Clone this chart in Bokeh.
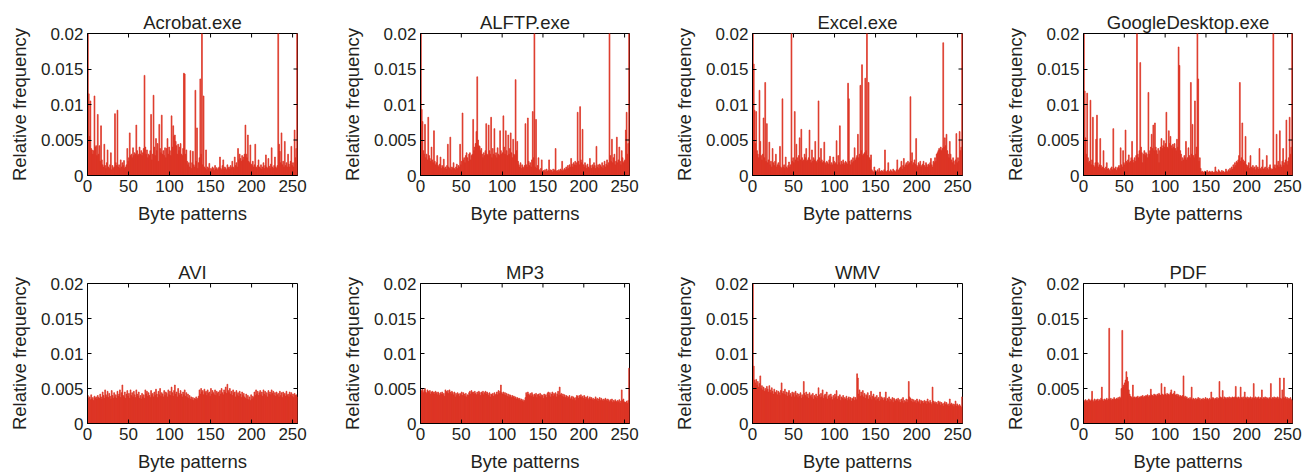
import math
from bokeh.plotting import figure
from bokeh.layouts import column, row
from bokeh.models import FixedTicker, Range1d, ColumnDataSource
from bokeh.embed import file_html
from bokeh.resources import INLINE

# values are relative frequencies in units of 1e-4
UNIT = 1e-4
byte_values = list(range(256))

acrobat = [
    300, 115, 55, 105, 38, 36, 30, 35, 112, 40, 42, 28, 86, 30, 42, 20,
    70, 22, 15, 12, 44, 14, 10, 18, 36, 12, 10, 15, 32, 8, 14, 10,
    12, 87, 18, 14, 92, 12, 15, 10, 22, 12, 18, 14, 21, 10, 12, 15,
    38, 20, 25, 60, 28, 30, 25, 39, 28, 32, 30, 71, 35, 28, 30, 40,
    30, 35, 28, 32, 38, 141, 40, 30, 36, 25, 30, 28, 35, 86, 22, 30,
    113, 40, 28, 52, 35, 45, 20, 72, 38, 32, 85, 30, 35, 28, 39, 25,
    38, 52, 30, 40, 35, 28, 84, 40, 70, 55, 57, 48, 42, 30, 44, 35,
    40, 45, 30, 28, 38, 144, 143, 30, 36, 20, 15, 18, 12, 35, 10, 18,
    34, 15, 12, 120, 20, 67, 10, 18, 25, 136, 30, 300, 15, 112, 12, 10,
    36, 8, 12, 10, 17, 6, 10, 8, 12, 10, 7, 14, 9, 11, 8, 10,
    12, 26, 10, 8, 14, 22, 9, 12, 10, 8, 15, 10, 12, 9, 14, 11,
    20, 12, 10, 26, 14, 18, 12, 38, 22, 30, 24, 20, 28, 22, 26, 30,
    71, 30, 25, 57, 20, 18, 43, 16, 14, 20, 12, 15, 44, 12, 10, 14,
    22, 12, 10, 15, 9, 12, 18, 10, 14, 29, 12, 10, 24, 13, 10, 16,
    39, 12, 10, 14, 26, 12, 10, 14, 300, 44, 34, 18, 60, 15, 20, 12,
    48, 14, 18, 12, 30, 16, 12, 20, 41, 14, 18, 12, 64, 25, 38, 300,
]

alftp = [
    300, 93, 76, 35, 30, 72, 25, 30, 22, 82, 28, 24, 20, 40, 22, 18,
    63, 20, 15, 18, 28, 14, 12, 16, 26, 10, 14, 12, 23, 10, 12, 9,
    14, 44, 12, 10, 54, 8, 12, 10, 18, 10, 8, 12, 16, 10, 14, 12,
    44, 15, 20, 88, 22, 25, 18, 28, 32, 25, 20, 30, 32, 22, 28, 30,
    79, 35, 40, 45, 62, 139, 50, 42, 41, 35, 38, 30, 25, 32, 28, 35,
    73, 30, 28, 71, 35, 30, 82, 25, 38, 30, 66, 28, 32, 25, 39, 30,
    28, 63, 35, 30, 32, 84, 40, 30, 63, 35, 28, 57, 30, 38, 60, 32,
    25, 51, 30, 28, 135, 35, 48, 20, 15, 12, 18, 10, 15, 12, 10, 14,
    73, 15, 12, 81, 20, 14, 18, 12, 22, 90, 25, 300, 12, 79, 10, 14,
    25, 8, 6, 10, 22, 5, 7, 6, 8, 5, 9, 6, 7, 22, 6, 8,
    7, 5, 9, 6, 8, 38, 6, 7, 5, 8, 6, 9, 7, 20, 6, 8,
    10, 8, 12, 9, 14, 10, 15, 12, 24, 16, 12, 18, 15, 20, 14, 18,
    89, 20, 15, 97, 22, 18, 65, 15, 12, 18, 14, 10, 16, 12, 10, 24,
    14, 10, 15, 12, 18, 14, 10, 41, 12, 15, 10, 16, 14, 12, 18, 10,
    14, 20, 12, 16, 22, 14, 18, 300, 28, 20, 51, 18, 25, 30, 15, 20,
    54, 18, 22, 40, 20, 15, 35, 25, 18, 20, 22, 64, 89, 30, 45, 300,
]

excel = [
    300, 157, 92, 45, 90, 35, 30, 25, 120, 48, 28, 22, 30, 81, 25, 131,
    20, 73, 18, 22, 47, 15, 20, 12, 38, 18, 14, 20, 30, 12, 15, 18,
    14, 41, 12, 10, 108, 12, 15, 10, 26, 12, 10, 14, 19, 12, 15, 300,
    20, 25, 18, 90, 22, 44, 25, 20, 28, 53, 22, 65, 25, 20, 22, 30,
    25, 38, 20, 22, 25, 64, 22, 18, 36, 20, 25, 22, 48, 20, 18, 22,
    105, 25, 20, 38, 22, 18, 20, 47, 18, 15, 20, 18, 16, 22, 27, 15,
    18, 15, 26, 20, 16, 18, 49, 15, 28, 18, 70, 15, 20, 16, 22, 18,
    15, 20, 18, 16, 130, 108, 20, 15, 22, 18, 25, 20, 39, 22, 25, 28,
    58, 25, 30, 127, 35, 156, 28, 30, 32, 137, 35, 300, 28, 131, 25, 22,
    29, 8, 6, 5, 12, 7, 5, 6, 8, 5, 10, 6, 5, 7, 6, 5,
    8, 36, 6, 5, 7, 18, 6, 5, 8, 6, 5, 9, 7, 6, 5, 8,
    22, 7, 8, 10, 12, 20, 9, 14, 24, 12, 15, 18, 14, 20, 16, 18,
    111, 20, 32, 15, 18, 22, 16, 52, 14, 12, 18, 15, 20, 12, 14, 16,
    20, 14, 12, 18, 15, 12, 16, 14, 18, 24, 15, 12, 20, 18, 25, 20,
    30, 32, 35, 38, 36, 40, 35, 38, 187, 40, 53, 42, 58, 35, 30, 25,
    48, 30, 22, 18, 25, 20, 15, 22, 59, 18, 25, 20, 62, 35, 40, 300,
]

google = [
    300, 119, 53, 30, 116, 25, 18, 20, 106, 15, 22, 82, 14, 12, 18, 51,
    85, 18, 12, 15, 52, 14, 10, 12, 35, 10, 8, 12, 18, 9, 10, 8,
    6, 10, 12, 8, 66, 10, 9, 12, 7, 10, 12, 14, 10, 39, 15, 12,
    35, 18, 15, 64, 20, 18, 22, 29, 18, 20, 25, 48, 22, 18, 25, 20,
    28, 300, 30, 25, 35, 159, 40, 32, 18, 30, 35, 28, 32, 30, 25, 117,
    30, 35, 40, 58, 38, 71, 35, 74, 40, 35, 30, 38, 18, 35, 40, 52,
    38, 42, 49, 40, 45, 89, 40, 38, 63, 45, 55, 42, 38, 44, 40, 45,
    38, 35, 51, 40, 181, 155, 35, 30, 20, 25, 22, 28, 25, 48, 22, 25,
    39, 28, 25, 131, 30, 72, 28, 25, 105, 30, 40, 300, 136, 20, 25, 10,
    5, 6, 4, 5, 6, 4, 5, 7, 4, 5, 6, 5, 4, 6, 5, 4,
    5, 12, 6, 4, 5, 8, 6, 5, 4, 7, 5, 6, 4, 5, 9, 6,
    5, 8, 6, 10, 7, 12, 9, 15, 12, 18, 14, 20, 18, 22, 28, 131,
    20, 25, 74, 22, 18, 20, 55, 15, 12, 14, 18, 10, 28, 12, 10, 14,
    10, 12, 8, 14, 10, 12, 9, 38, 10, 8, 12, 22, 9, 10, 12, 8,
    28, 10, 8, 12, 15, 10, 8, 9, 300, 12, 15, 10, 58, 14, 20, 12,
    63, 15, 12, 20, 38, 14, 18, 22, 78, 15, 20, 25, 82, 30, 40, 300,
]

avi = [
    40, 36, 38, 34, 41, 35, 37, 33, 39, 36, 38, 35, 40, 37, 36, 42,
    38, 35, 45, 40, 36, 48, 41, 38, 46, 37, 43, 39, 35, 47, 40, 36,
    44, 38, 41, 36, 46, 39, 42, 48, 37, 44, 55, 40, 38, 45, 36, 42,
    47, 39, 43, 36, 48, 40, 44, 38, 46, 41, 37, 48, 42, 39, 45, 36,
    40, 35, 43, 38, 41, 36, 48, 42, 46, 39, 44, 40, 37, 47, 41, 43,
    38, 45, 40, 49, 42, 37, 46, 41, 50, 39, 44, 42, 38, 47, 40, 45,
    43, 38, 48, 41, 46, 40, 52, 44, 39, 47, 55, 42, 45, 38, 50, 43,
    40, 47, 42, 38, 45, 41, 48, 39, 44, 37, 42, 36, 40, 35, 38, 34,
    37, 33, 36, 35, 38, 34, 36, 39, 48, 42, 50, 45, 47, 41, 49, 44,
    46, 40, 48, 43, 45, 39, 50, 42, 47, 44, 41, 48, 40, 46, 43, 45,
    39, 47, 42, 50, 44, 41, 48, 45, 52, 43, 56, 47, 44, 50, 42, 46,
    40, 48, 43, 45, 38, 47, 41, 44, 39, 46, 42, 37, 45, 40, 43, 38,
    36, 42, 35, 40, 34, 38, 33, 41, 35, 39, 37, 45, 40, 48, 42, 46,
    40, 44, 47, 41, 45, 39, 48, 42, 46, 40, 44, 38, 47, 42, 45, 41,
    48, 43, 46, 40, 44, 39, 45, 41, 43, 38, 46, 40, 44, 37, 45, 41,
    43, 39, 46, 40, 42, 38, 45, 41, 44, 39, 42, 37, 43, 40, 41, 38,
]

mp3 = [
    48, 46, 49, 44, 47, 50, 45, 43, 48, 46, 44, 47, 42, 45, 46, 43,
    45, 42, 46, 44, 41, 45, 43, 40, 44, 42, 45, 41, 43, 39, 48, 46,
    44, 47, 43, 48, 45, 42, 46, 44, 41, 45, 38, 43, 40, 44, 42, 39,
    43, 41, 45, 40, 44, 42, 39, 43, 38, 41, 40, 44, 46, 42, 47, 44,
    45, 42, 46, 43, 41, 45, 42, 46, 44, 40, 45, 43, 46, 41, 44, 46,
    42, 45, 43, 40, 44, 38, 42, 41, 43, 39, 44, 40, 42, 45, 41, 47,
    43, 46, 55, 44, 42, 45, 41, 44, 40, 43, 39, 42, 38, 41, 40, 37,
    40, 38, 39, 36, 38, 35, 37, 36, 34, 36, 33, 35, 32, 34, 31, 33,
    37, 44, 41, 45, 42, 40, 43, 39, 44, 41, 38, 42, 40, 43, 37, 41,
    42, 39, 43, 38, 41, 40, 36, 42, 39, 41, 37, 43, 45, 40, 44, 38,
    42, 45, 39, 43, 41, 44, 38, 42, 46, 40, 52, 41, 43, 39, 42, 38,
    41, 37, 40, 39, 36, 38, 40, 35, 37, 39, 34, 38, 36, 33, 37, 40,
    39, 36, 40, 38, 41, 37, 39, 36, 40, 38, 35, 37, 39, 34, 36, 38,
    35, 37, 34, 36, 33, 35, 38, 34, 36, 32, 35, 37, 33, 36, 34, 32,
    35, 33, 36, 34, 32, 35, 33, 31, 34, 32, 35, 30, 33, 31, 34, 32,
    30, 33, 31, 34, 29, 32, 48, 33, 35, 31, 30, 30, 32, 29, 33, 79,
]

wmv = [
    300, 82, 62, 58, 63, 55, 60, 52, 57, 68, 50, 54, 48, 52, 46, 50,
    47, 53, 49, 45, 54, 48, 44, 51, 46, 42, 49, 45, 43, 47, 41, 46,
    44, 40, 47, 58, 43, 46, 42, 49, 41, 45, 39, 44, 47, 40, 43, 38,
    45, 41, 44, 38, 46, 40, 43, 37, 42, 39, 44, 36, 41, 38, 60, 43,
    40, 45, 38, 42, 36, 44, 39, 41, 37, 43, 35, 40, 38, 42, 36, 39,
    51, 41, 37, 43, 38, 48, 36, 40, 42, 37, 45, 35, 39, 41, 36, 42,
    38, 34, 40, 36, 42, 38, 47, 35, 39, 37, 41, 33, 38, 36, 40, 34,
    37, 35, 39, 33, 36, 38, 34, 37, 32, 36, 35, 38, 33, 37, 34, 71,
    65, 42, 48, 39, 45, 40, 47, 38, 43, 36, 41, 39, 44, 35, 40, 37,
    46, 34, 39, 42, 36, 38, 33, 40, 35, 37, 32, 45, 34, 38, 36, 33,
    37, 35, 45, 32, 36, 34, 38, 31, 35, 33, 37, 30, 36, 34, 32, 35,
    33, 36, 31, 34, 30, 35, 32, 37, 29, 33, 31, 35, 30, 34, 60, 38,
    36, 32, 35, 30, 34, 31, 33, 29, 35, 32, 30, 34, 28, 33, 31, 32,
    29, 33, 30, 32, 28, 35, 31, 29, 33, 30, 27, 52, 32, 29, 31, 28,
    30, 27, 32, 29, 31, 26, 30, 28, 25, 29, 31, 27, 30, 26, 28, 25,
    35, 27, 29, 26, 28, 24, 27, 32, 25, 28, 26, 24, 27, 25, 23, 38,
]

pdf = [
    33, 31, 34, 32, 33, 30, 35, 33, 32, 34, 46, 33, 31, 35, 32, 34,
    33, 35, 32, 34, 33, 36, 52, 34, 32, 35, 33, 34, 36, 33, 35, 136,
    34, 36, 33, 35, 34, 37, 35, 34, 36, 35, 37, 34, 38, 36, 50, 133,
    52, 55, 58, 62, 74, 66, 60, 48, 42, 39, 38, 36, 55, 37, 38, 36,
    38, 37, 39, 36, 38, 37, 39, 38, 40, 37, 39, 38, 40, 39, 41, 38,
    40, 39, 49, 41, 40, 39, 42, 40, 41, 39, 42, 40, 43, 41, 40, 57,
    42, 40, 41, 52, 42, 40, 43, 41, 42, 40, 44, 48, 42, 41, 43, 46,
    41, 40, 42, 39, 41, 38, 40, 39, 38, 40, 68, 37, 39, 36, 38, 35,
    36, 34, 37, 35, 52, 34, 36, 35, 33, 36, 34, 35, 37, 34, 36, 33,
    35, 34, 36, 33, 35, 37, 34, 36, 35, 33, 36, 34, 45, 35, 37, 36,
    34, 36, 35, 37, 34, 36, 60, 38, 36, 37, 47, 35, 38, 36, 37, 35,
    37, 36, 38, 35, 37, 36, 38, 37, 36, 38, 53, 37, 36, 38, 37, 35,
    52, 37, 36, 38, 35, 45, 37, 36, 38, 35, 37, 36, 38, 35, 37, 36,
    57, 36, 38, 35, 37, 36, 38, 35, 37, 36, 48, 35, 37, 36, 38, 35,
    37, 36, 35, 37, 36, 57, 35, 37, 36, 38, 35, 37, 36, 38, 35, 37,
    65, 36, 35, 48, 37, 65, 36, 38, 35, 37, 34, 36, 35, 37, 34, 33,
]

titles = ["Acrobat.exe", "ALFTP.exe", "Excel.exe", "GoogleDesktop.exe",
          "AVI", "MP3", "WMV", "PDF"]
series = [acrobat, alftp, excel, google, avi, mp3, wmv, pdf]
y_ticks = [0, 0.005, 0.01, 0.015, 0.02]
y_tick_labels = ["0", "0.005", "0.01", "0.015", "0.02"]
x_ticks = [0, 50, 100, 150, 200, 250]
X_MAX = 256
Y_MAX = 0.02

for s in series:
    assert len(s) == 256, len(s)

RED = "#dc3222"
FONT = "Liberation Sans"
TXT = "#231f20"

# layout per column: (width, left border, right border)
col_geom = [(333, 87, 36), (332, 87, 36), (332, 87, 35), (316, 86, 21)]
# layout per row: (height, top border, bottom border)
row_geom = [(240, 33, 65), (234, 43, 48)]


def style_axis(ax):
    ax.major_tick_in = 4
    ax.major_tick_out = 0
    ax.minor_tick_line_color = None
    ax.axis_line_color = "black"
    ax.major_tick_line_color = "black"
    ax.major_label_text_font = FONT
    ax.major_label_text_color = TXT
    ax.major_label_text_font_size = "17px"
    ax.major_label_standoff = 4
    ax.axis_label_text_font = FONT
    ax.axis_label_text_font_size = "18.5px"
    ax.axis_label_text_font_style = "normal"
    ax.axis_label_text_color = TXT
    ax.axis_label_standoff = 8


def make_panel(title, vals, cg, rg):
    w, bl, br = cg
    h, bt, bb = rg
    p = figure(width=w, height=h, output_backend="svg", toolbar_location=None,
               x_range=Range1d(0, X_MAX), y_range=Range1d(0, Y_MAX),
               min_border_left=bl, min_border_right=br,
               min_border_top=bt, min_border_bottom=bb,
               title=title)
    p.title.align = "center"
    p.title.text_font = FONT
    p.title.text_font_size = "18.5px"
    p.title.text_font_style = "normal"
    p.title.text_color = TXT
    p.title.standoff = 2
    p.outline_line_color = "black"
    p.outline_line_width = 1
    p.outline_line_alpha = 1
    p.grid.visible = False
    p.background_fill_color = "white"
    p.border_fill_color = "white"

    src = ColumnDataSource(dict(x=[b + 0.5 for b in byte_values],
                                y=[v * UNIT for v in vals]))
    p.vbar(x="x", top="y", width=1.0, bottom=0, source=src,
           fill_color=RED, line_color=RED, line_width=0.7)

    # mirrored inward ticks on the top and right borders
    p.ray(x=x_ticks, y=[Y_MAX] * len(x_ticks), length=4, length_units="screen",
          angle=-math.pi / 2, line_color="black", line_width=1)
    p.ray(x=[X_MAX] * len(y_ticks), y=y_ticks, length=4, length_units="screen",
          angle=math.pi, line_color="black", line_width=1)

    p.xaxis.ticker = FixedTicker(ticks=x_ticks)
    p.yaxis.ticker = FixedTicker(ticks=y_ticks)
    p.yaxis.major_label_overrides = {t: l for t, l in zip(y_ticks, y_tick_labels)}
    p.xaxis.axis_label = "Byte patterns"
    p.yaxis.axis_label = "Relative frequency"
    style_axis(p.xaxis[0])
    style_axis(p.yaxis[0])
    return p


figs = []
for k, (t, s) in enumerate(zip(titles, series)):
    figs.append(make_panel(t, s, col_geom[k % 4], row_geom[k // 4]))

layout = column(row(*figs[:4]), row(*figs[4:]))
open("out.html", "w").write(file_html(layout, INLINE))
